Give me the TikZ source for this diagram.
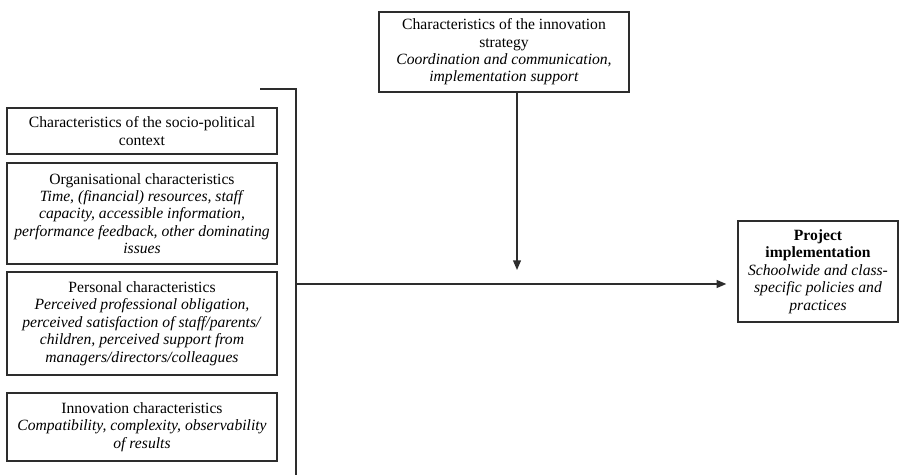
\documentclass[tikz,border=0pt]{standalone}
\usepackage{fontspec}
\setmainfont{Liberation Serif}
\usepackage{tikz}
\usetikzlibrary{positioning, arrows.meta}
\definecolor{LineGrey}{RGB}{45,45,45}

\begin{document}
\begin{tikzpicture}[x=0.02cm, y=-0.02cm,
    factorbox/.style={draw=LineGrey, line width=0.8pt, align=center, inner sep=1pt,
      font=\fontsize{8.9}{9.9}\selectfont},
    flow/.style={draw=LineGrey, line width=0.8pt},
    flowarrow/.style={flow, -{Triangle[length=5.5pt, width=4.5pt]}}]
  \useasboundingbox (0,0) rectangle (902,475);

  % factors on the left
  \node[factorbox, minimum width=270*0.02cm, minimum height=46*0.02cm] (context) at (142,131)
    {Characteristics of the socio-political\\context};
  \node[factorbox, minimum width=270*0.02cm, minimum height=101*0.02cm] (organisation) at (142,213.5)
    {Organisational characteristics\\\textit{Time, (financial) resources, staff}\\\textit{capacity, accessible information,}\\
     \textit{performance feedback, other dominating}\\\textit{issues}};
  \node[factorbox, minimum width=270*0.02cm, minimum height=103*0.02cm] (personal) at (142,323.5)
    {Personal characteristics\\\textit{Perceived professional obligation,}\\\textit{perceived satisfaction of staff/parents/}\\
     \textit{children, perceived support from}\\\textit{managers/directors/colleagues}};
  \node[factorbox, minimum width=270*0.02cm, minimum height=68*0.02cm] (innovation) at (142,427)
    {Innovation characteristics\\\textit{Compatibility, complexity, observability}\\\textit{of results}};

  % strategy and outcome
  \node[factorbox, minimum width=250*0.02cm, minimum height=80*0.02cm] (strategy) at (504,52)
    {Characteristics of the innovation\\strategy\\\textit{Coordination and communication,}\\\textit{implementation support}};
  \node[factorbox, minimum width=160*0.02cm, minimum height=101*0.02cm] (project) at (818,271.5)
    {\textbf{Project}\\\textbf{implementation}\\\textit{Schoolwide and class-}\\\textit{specific policies and}\\\textit{practices}};

  % bracket and arrows
  \coordinate (brstart) at (260,89);
  \coordinate (brcorner) at (296,89);
  \coordinate (brend) at (296,475);
  \coordinate (join) at (296,284);
  \coordinate (drop) at (517,92);
  \draw[flow] (brstart) -- (brcorner) -- (brend);
  \draw[flowarrow, shorten >=0.22cm] (join) -- (project.west |- join);
  \draw[flowarrow, shorten >=0.28cm] (drop) -- (drop |- join);
\end{tikzpicture}
\end{document}
